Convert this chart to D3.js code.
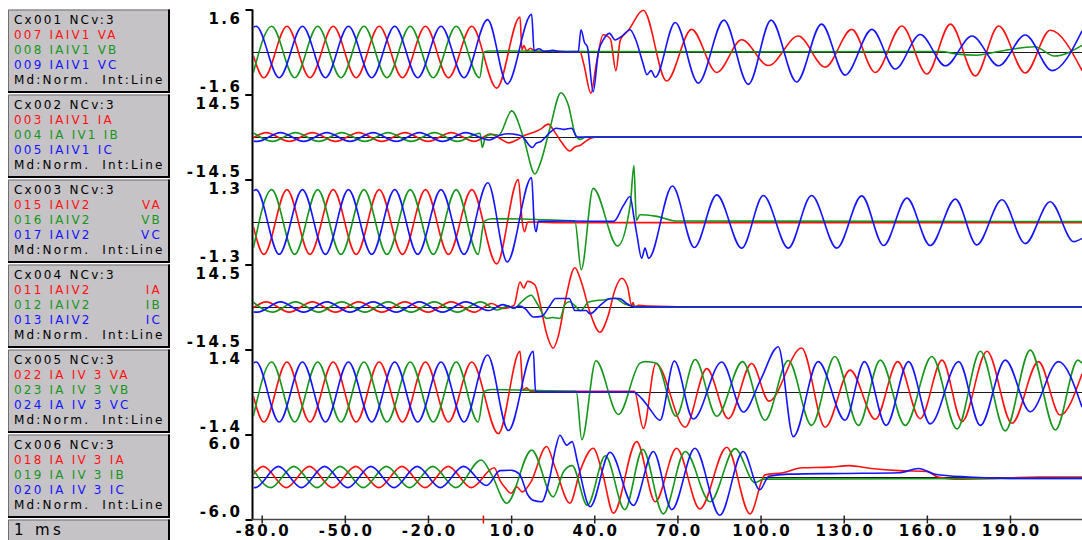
<!DOCTYPE html>
<html>
<head>
<meta charset="utf-8">
<script src="https://cdn.jsdelivr.net/npm/d3@7"></script>
<style>
  html, body { margin: 0; padding: 0; background: #ffffff; }
  svg { display: block; }
  text { white-space: pre; }
</style>
</head>
<body>
<svg id="chart" width="1082" height="540"></svg>
<script>
// ---- channel group headers and per-channel labels ----
const groupTitles = ["Cx001 NCv:3", "Cx002 NCv:3", "Cx003 NCv:3", "Cx004 NCv:3", "Cx005 NCv:3", "Cx006 NCv:3"];
const channelLabels = [
  [["007 IAIV1 VA", ""], ["008 IAIV1 VB", ""], ["009 IAIV1 VC", ""]],
  [["003 IAIV1 IA", ""], ["004 IA IV1 IB", ""], ["005 IAIV1 IC", ""]],
  [["015 IAIV2", "VA"], ["016 IAIV2", "VB"], ["017 IAIV2", "VC"]],
  [["011 IAIV2", "IA"], ["012 IAIV2", "IB"], ["013 IAIV2", "IC"]],
  [["022 IA IV 3 VA", ""], ["023 IA IV 3 VB", ""], ["024 IA IV 3 VC", ""]],
  [["018 IA IV 3 IA", ""], ["019 IA IV 3 IB", ""], ["020 IA IV 3 IC", ""]]
];
const modeLabel = "Md:Norm.  Int:Line";
const timeBaseLabel = "1 ms";

// full-scale value of each group (ms on x, engineering units on y)
const groupLimits = [1.6, 14.5, 1.3, 14.5, 1.4, 6.0];
const limitLabels = [["1.6", "-1.6"], ["14.5", "-14.5"], ["1.3", "-1.3"], ["14.5", "-14.5"], ["1.4", "-1.4"], ["6.0", "-6.0"]];
const timeTicks = [-80, -50, -20, 10, 40, 70, 100, 130, 160, 190];
const triggerTime = 0;

// ---- recorded samples: [time ms, value] at turning points ----
// Cx001  IAIV1 voltages
const va1 = [[-83,-0.14],[-79.2,-0.97],[-70.9,0.97],[-62.6,-0.97],[-54.2,0.97],[-45.9,-0.97],[-37.6,0.97],[-29.2,-0.97],[-20.9,0.97],[-12.6,-0.97],[-4.2,0.97],[4.8,-1.36],[13.2,1.32],[13.9,0.08],[14.6,0.24],[15.6,0.04],[17,0.14],[18.6,0.02],[24,0.04],[30,0.01],[34.8,0.02],[36.2,-0.45],[38.8,-1.55],[40.8,-0.4],[43.2,0.65],[45.8,0.5],[47.8,-0.7],[49.4,0.45],[52.2,0.8],[57.7,1.57],[66.1,-1.09],[75.1,0.85],[84.2,-0.77],[93.2,0.46],[102.8,-0.51],[113.6,0.6],[123.3,-0.57],[132.9,0.85],[141.4,-0.77],[151,0.98],[160,-0.83],[168.5,1.05],[177.5,-0.9],[185.9,0.98],[195.5,-0.79],[204.5,0.82],[216,-0.7]];
const vb1 = [[-83,-0.78],[-76.4,0.97],[-68.1,-0.97],[-59.8,0.97],[-51.4,-0.97],[-43.1,0.97],[-34.8,-0.97],[-26.4,0.97],[-18.1,-0.97],[-9.8,0.97],[-1.4,-0.97],[0.3,0.0],[2,0.04],[40,0.02],[100,0.01],[165,0.02],[171,-0.08],[178,-0.12],[186,0.02],[199,0.2],[206,-0.15],[216,0.25]];
const vc1 = [[-83,0.93],[-82.0,0.97],[-73.7,-0.97],[-65.3,0.97],[-57.0,-0.97],[-48.7,0.97],[-40.3,-0.97],[-32.0,0.97],[-23.7,-0.97],[-15.3,0.97],[-7.0,-0.97],[1.5,1.22],[8.6,-1.2],[17.4,1.42],[18.3,0.05],[20,0.12],[22,0.02],[25,0.06],[28,0.0],[34.2,0.0],[35.2,0.84],[36.5,0.35],[37.5,0.2],[39.6,-1.5],[41.5,0.0],[43.5,0.5],[45.5,0.7],[47.5,0.45],[50,0.6],[52.9,0.84],[55,0.45],[57.5,-0.4],[59,-0.85],[60.5,-0.7],[62,-0.95],[69.2,1.11],[77.5,-1.17],[86.8,1.2],[95.6,-1.22],[103.8,1.2],[113,-1.13],[122,1.05],[130.5,-0.87],[140.2,0.85],[148.6,-0.64],[157.6,0.66],[166.7,-0.52],[176.3,0.6],[185.9,-0.52],[195.5,0.64],[205.2,-0.7],[216,0.8]];

// Cx002  IAIV1 currents
const ia1 = [[-83,-0.24],[-78.4,1.5],[-70.05,-1.5],[-61.7,1.5],[-53.35,-1.5],[-45.0,1.5],[-36.65,-1.5],[-28.3,1.5],[-19.95,-1.5],[-11.6,1.5],[-3.25,-1.5],[2.5,1.0],[6,-0.5],[9.1,-2.0],[12,-1.0],[15,0.6],[18,1.5],[20.5,2.6],[23.4,4.4],[25.5,2.0],[28,-1.5],[31.2,-4.8],[33,-3.4],[35,-2.8],[37,-1.4],[39,-0.3],[41,0.0],[216,0.0]];
const ib1 = [[-83,1.4],[-76.15,-1.5],[-67.8,1.5],[-59.45,-1.5],[-51.1,1.5],[-42.75,-1.5],[-34.4,1.5],[-26.05,-1.5],[-17.7,1.5],[-9.35,-1.5],[-1.2,1.3],[-0.4,-3.6],[0.8,0.2],[3,0.9],[5.5,0.6],[10.2,8.9],[14.4,0.0],[18.6,-12.6],[20.5,-9],[24,3],[28,15.1],[30.6,11],[33.3,0.5],[35,-0.8],[37,0.0],[216,0.0]];
const ic1 = [[-83,-1.4],[-81.55,-1.5],[-73.2,1.5],[-64.85,-1.5],[-56.5,1.5],[-48.15,-1.5],[-39.8,1.5],[-31.45,-1.5],[-23.1,1.5],[-14.75,-1.5],[-6.4,1.5],[2.0,-1.0],[6,0.6],[9,1.1],[12,0.8],[14,0.2],[17.6,-3.6],[19,-2.2],[21,-1.4],[23,0.6],[26.4,3.0],[29,2.6],[31.8,3.0],[33.8,0.0],[216,0.0]];

// Cx003  IAIV2 voltages
const va2 = [[-83,-0.14],[-79.2,-0.99],[-70.9,0.99],[-62.6,-0.99],[-54.2,0.99],[-45.9,-0.99],[-37.6,0.99],[-29.2,-0.99],[-20.9,0.99],[-12.6,-0.99],[-4.2,0.99],[4.8,-1.28],[12.6,1.3],[14.0,0.0],[14.8,-0.3],[16,0.0],[30,-0.02],[216,-0.02]];
const vb2 = [[-83,-0.8],[-76.4,0.99],[-68.1,-0.99],[-59.8,0.99],[-51.4,-0.99],[-43.1,0.99],[-34.8,-0.99],[-26.4,0.99],[-18.1,-0.99],[-9.8,0.99],[-1.9,-0.99],[0.3,0.02],[3,0.1],[14,0.09],[25,0.06],[33,0.03],[35.3,-1.46],[39.6,1.03],[48.4,-0.73],[53,0.55],[54.3,1.73],[55.2,0.05],[56.5,0.22],[62,0.18],[70,0.03],[216,0.01]];
const vc2 = [[-83,0.95],[-82.0,0.99],[-73.7,-0.99],[-65.3,0.99],[-57.0,-0.99],[-48.7,0.99],[-40.3,-0.99],[-32.0,0.99],[-23.7,-0.99],[-15.3,0.99],[-7.0,-0.99],[1.6,1.2],[8.6,-1.22],[17.4,1.36],[18.3,0.0],[19.0,-0.3],[19.8,0.02],[30,0.03],[47,0.02],[50.5,0.5],[52.9,0.78],[54.3,0.15],[55.5,-0.45],[57.1,-1.11],[58.3,-0.8],[59.6,-1.11],[68.2,1.1],[76.1,-0.78],[84.2,0.83],[93.2,-0.8],[101,0.81],[110,-0.8],[118.4,0.81],[127.5,-0.8],[136.5,0.8],[144.4,-0.72],[152.8,0.73],[161.2,-0.72],[170.3,0.7],[178,-0.7],[187.1,0.68],[195.5,-0.66],[204.5,0.62],[213,-0.6],[216,-0.5]];

// Cx004  IAIV2 currents
const ia2 = [[-83,-0.28],[-78.4,1.75],[-70.05,-1.75],[-61.7,1.75],[-53.35,-1.75],[-45.0,1.75],[-36.65,-1.75],[-28.3,1.75],[-19.95,-1.75],[-11.6,1.75],[-3.25,-1.75],[3,1.2],[7,-0.5],[11,0.5],[13.2,8.5],[14.5,6.5],[16,8.8],[18.6,7.5],[20.5,1],[22.5,-8],[25.2,-14],[27,-10],[29.5,2],[33,13.4],[35.5,8],[38.5,-2],[42,-8.6],[45,-3],[47.5,6],[49.9,9.8],[52,7],[53.5,0.5],[54,1.5],[54.6,0],[56,0.6],[60,0.3],[70,0.1],[75,0.0],[216,0.0]];
const ib2 = [[-83,1.65],[-76.15,-1.75],[-67.8,1.75],[-59.45,-1.75],[-51.1,1.75],[-42.75,-1.75],[-34.4,1.75],[-26.05,-1.75],[-17.7,1.75],[-9.35,-1.75],[-1.0,1.75],[5,-1.0],[9,0.3],[11,-0.5],[14,2],[17.2,4.0],[19.5,1],[22.8,-3.9],[25,-3.6],[27.6,-3.9],[29.5,1.0],[31,1.8],[33,0.5],[35,-1.3],[38,1.7],[44,2.5],[47.5,3.0],[51,1.0],[54.5,0.2],[57,0.1],[60,0],[216,0]];
const ic2 = [[-83,-1.65],[-81.55,-1.75],[-73.2,1.75],[-64.85,-1.75],[-56.5,1.75],[-48.15,-1.75],[-39.8,1.75],[-31.45,-1.75],[-23.1,1.75],[-14.75,-1.75],[-6.4,1.75],[2.0,-1.2],[7,0.8],[11,-0.3],[13,0.3],[15,-0.5],[18,-3.4],[21,-3.2],[24,0.5],[26,2.9],[31,2.9],[33,-1.2],[37,-1.2],[38.5,-2.3],[42,0.5],[46,2.9],[49,2.9],[52,1],[54.5,0],[216,0]];

// Cx005  IA IV 3 voltages
const va3 = [[-83,-0.14],[-79.2,-0.99],[-70.9,0.99],[-62.6,-0.99],[-54.2,0.99],[-45.9,-0.99],[-37.6,0.99],[-29.2,-0.99],[-20.9,0.99],[-12.6,-0.99],[-4.2,0.99],[5.4,-1.37],[13.2,1.34],[14.3,0.05],[15.5,0.14],[17,0.02],[54.5,0.02],[57.7,-1.2],[62.2,0.94],[72.8,-1.16],[80.6,0.77],[88.4,-0.88],[96.8,0.94],[103,-0.3],[114.8,1.45],[123.3,-1.16],[132.3,0.72],[141.4,-0.9],[149.5,1.0],[157.6,-0.88],[165.5,1.05],[172.7,-0.97],[181.7,1.34],[190.7,-1.03],[200.3,1.0],[208.1,-0.76],[216,0.6]];
const vb3 = [[-83,-0.8],[-76.4,0.99],[-68.1,-0.99],[-59.8,0.99],[-51.4,-0.99],[-43.1,0.99],[-34.8,-0.99],[-26.4,0.99],[-18.1,-0.99],[-9.8,0.99],[-1.9,-0.99],[0.3,0.02],[3,0.08],[20,0.05],[33.5,0.02],[35.5,-1.57],[40.6,1.03],[48.7,-0.74],[56.5,0.95],[58.5,1.0],[62.5,0.95],[69.5,-0.8],[76.4,1.07],[84.2,-0.8],[93.5,1.0],[101.6,-0.93],[110,1.04],[118.4,-1.1],[126.8,1.17],[135.3,-1.1],[143.2,1.05],[152.2,-1.1],[161.8,1.17],[170.9,-1.22],[179.3,1.34],[188.3,-1.28],[197.3,1.38],[206.4,-1.25],[214.5,1.05],[216,0.95]];
const vc3 = [[-83,0.95],[-82.0,0.99],[-73.7,-0.99],[-65.3,0.99],[-57.0,-0.99],[-48.7,0.99],[-40.3,-0.99],[-32.0,0.99],[-23.7,-0.99],[-15.3,0.99],[-7.0,-0.99],[1.5,1.22],[9.0,-1.27],[18,1.34],[18.8,0.03],[20,0.0],[54,0.0],[57,-0.2],[60,-0.55],[63.7,-0.93],[68.9,1.02],[75.7,-0.89],[86,0.99],[93.8,-0.66],[100,0.4],[106.4,1.49],[111.8,-1.47],[120.8,1.0],[130.5,-0.93],[137.5,1.0],[145.3,-1.1],[153.4,1.0],[161.2,-1.05],[171.5,1.0],[179.3,-1.1],[188.3,1.05],[197.3,-0.65],[207.5,1.0],[216,-0.5]];

// Cx006  IA IV 3 currents
const ia3 = [[-83,0.37],[-79.5,1.5],[-71.15,-1.5],[-62.8,1.5],[-54.45,-1.5],[-46.1,1.5],[-37.75,-1.5],[-29.4,1.5],[-21.05,-1.5],[-12.7,1.5],[-4.35,-1.5],[3.9,1.3],[6,-0.5],[8,-1.6],[10,-2.3],[12,-1.4],[14,-2.1],[17,-0.8],[22.8,4.3],[26,1.2],[31.2,-3.7],[35,1.0],[39.6,4.05],[43,0.5],[46.9,-5.1],[55.3,5.0],[62,-3.5],[69.7,4.05],[78.1,-4.5],[87.8,4.2],[96.2,-5.2],[101.6,0.3],[108,0.6],[115,1.3],[125,1.4],[132,1.6],[140,1.2],[150,0.9],[160,0.8],[164,0.0],[170,-0.3],[185,-0.2],[200,0.0],[216,0.0]];
const ib3 = [[-83,1.05],[-76.75,-1.5],[-68.4,1.5],[-60.05,-1.5],[-51.7,1.5],[-43.35,-1.5],[-35,1.5],[-26.65,-1.5],[-18.3,1.5],[-9.95,-1.5],[-0.8,2.4],[3,0.3],[8.4,-3.7],[17.4,3.8],[25.2,-2.8],[29,0.8],[32,1.6],[37.5,-4.0],[44,3.0],[51,-4.6],[57.5,3.9],[64.9,-5.2],[72.8,3.6],[81.8,-3.5],[90.8,4.0],[98,-0.8],[101,-0.3],[216,-0.2]];
const ic3 = [[-83,-1.48],[-82.35,-1.5],[-74,1.5],[-65.65,-1.5],[-57.3,1.5],[-48.95,-1.5],[-40.6,1.5],[-32.25,-1.5],[-23.9,1.5],[-15.55,-1.5],[-7.2,1.5],[1.15,-1.2],[6,0.9],[10,0.95],[13,0.4],[16,-2.5],[18,-3.3],[21,-3.5],[24,0],[26,4],[27.6,5.9],[30,4.5],[32,5.0],[34,2],[38.5,-4.2],[45.7,3.5],[54.1,-4.0],[61.3,3.6],[68,-4.6],[76.3,4.05],[85.3,-5.4],[93.7,3.6],[99.7,-1.8],[103,0.1],[110,0.4],[130,0.5],[150,0.6],[157,1.2],[163,0.4],[175,0.0],[190,-0.2],[216,-0.2]];

const groupSeries = [[va1, vb1, vc1], [ia1, ib1, ic1], [va2, vb2, vc2], [ia2, ib2, ic2], [va3, vb3, vc3], [ia3, ib3, ic3]];
const phaseColors = ["#ff1010", "#16961c", "#1414ff"];

// ---- layout ----
const W = 1082, H = 540;
const bandTop = 9.5, bandH = 85;
const axisX = 252.5;
const axisY = bandTop + bandH * 6;

const svg = d3.select("#chart");

const x = d3.scaleLinear().domain([-80, 190]).range([261.7, 1010]);

svg.append("defs").append("clipPath").attr("id", "plotClip")
  .append("rect").attr("x", axisX + 1).attr("y", 0).attr("width", W - axisX).attr("height", axisY);

function drawBox(g, w, h) {
  g.append("rect").attr("x", 0).attr("y", 0).attr("width", w).attr("height", h).attr("fill", "#c6c3c6");
  g.append("path").attr("d", `M0.5,${h} V0.5 H${w}`).attr("fill", "none").attr("stroke", "#6e6e6e").attr("stroke-width", 1);
  g.append("path").attr("d", `M0,${h - 1} H${w - 1} V0`).attr("fill", "none").attr("stroke", "#000").attr("stroke-width", 2);
}

// side panels with channel names
const boxX = 8, boxW = 162;
groupTitles.forEach((title, i) => {
  const top = bandTop + bandH * i;
  const g = svg.append("g").attr("transform", `translate(${boxX},${top})`);
  drawBox(g, boxW, bandH - 1.5);
  const rows = [[title, "", "#000000"]]
    .concat(channelLabels[i].map((c, k) => [c[0], c[1], phaseColors[k]]))
    .concat([[modeLabel, "", "#000000"]]);
  rows.forEach((r, k) => {
    const yy = 14.8 + k * 14.9;
    g.append("text").attr("x", 6).attr("y", yy)
      .attr("fill", r[2]).attr("class", "boxtxt").text(r[0]);
    if (r[1]) {
      g.append("text").attr("x", 154).attr("y", yy).attr("text-anchor", "end")
        .attr("fill", r[2]).attr("class", "boxtxt").text(r[1]);
    }
  });
});
{
  const g = svg.append("g").attr("transform", `translate(${boxX},${axisY})`);
  drawBox(g, boxW, 24);
  g.append("text").attr("x", 6).attr("y", 15.5).attr("fill", "#000")
    .style("font", "15px 'DejaVu Sans'").style("letter-spacing", "3.4px").text(timeBaseLabel);
}

svg.selectAll("text.boxtxt")
  .style("font-family", "'DejaVu Sans'").style("font-size", "12px").style("letter-spacing", "2.2px");

// per-group plots
const valueFont = "bold 15px 'DejaVu Sans'";
groupSeries.forEach((series, i) => {
  const top = bandTop + bandH * i;
  const lim = groupLimits[i];
  const y = d3.scaleLinear().domain([-lim, lim]).range([top + bandH, top]);

  // left ticks at full scale
  svg.append("g").attr("transform", `translate(${axisX},0)`)
    .call(d3.axisLeft(y).tickValues([lim, -lim]).tickSize(7).tickFormat(""))
    .call(g => g.select(".domain").remove())
    .call(g => g.selectAll("line").attr("stroke", "#000").attr("stroke-width", 2));

  // scale labels
  svg.append("text").attr("x", 242.5).attr("y", y(lim) + 14).attr("text-anchor", "end")
    .style("font", valueFont).style("letter-spacing", "2.5px").attr("fill", "#000").text(limitLabels[i][0]);
  svg.append("text").attr("x", 242.5).attr("y", y(-lim) - 2.5).attr("text-anchor", "end")
    .style("font", valueFont).style("letter-spacing", "2.5px").attr("fill", "#000").text(limitLabels[i][1]);

  // zero reference
  svg.append("line").attr("x1", axisX).attr("x2", W).attr("y1", Math.round(y(0)) + 0.5).attr("y2", Math.round(y(0)) + 0.5)
    .attr("stroke", "#1a1a1a").attr("stroke-width", 1);

  const line = d3.line().x(d => x(d[0])).y(d => y(d[1])).curve(d3.curveMonotoneX);
  svg.append("g").attr("clip-path", "url(#plotClip)")
    .selectAll("path").data(series).join("path")
    .attr("d", line).attr("fill", "none")
    .attr("stroke", (d, k) => phaseColors[k]).attr("stroke-width", 1.6)
    .attr("stroke-linejoin", "round");
});

// vertical axis line
svg.append("line").attr("x1", axisX).attr("x2", axisX).attr("y1", bandTop).attr("y2", axisY)
  .attr("stroke", "#000").attr("stroke-width", 2);

// time axis
svg.append("line").attr("x1", axisX - 1).attr("x2", W).attr("y1", axisY).attr("y2", axisY)
  .attr("stroke", "#4a4a4a").attr("stroke-width", 1.5);
const xAxis = svg.append("g").attr("transform", `translate(0,${axisY})`)
  .call(d3.axisBottom(x).tickValues(timeTicks).tickSize(4).tickPadding(0).tickFormat(d => d.toFixed(1)));
xAxis.select(".domain").remove();
xAxis.selectAll(".tick line").attr("y1", -4).attr("y2", 4).attr("stroke", "#222").attr("stroke-width", 1.5);
xAxis.selectAll(".tick text").attr("fill", "#000").style("font", valueFont).style("letter-spacing", "2.5px")
  .attr("y", 16.5).attr("dy", null).attr("dx", "1.25px");
svg.append("line").attr("x1", x(triggerTime)).attr("x2", x(triggerTime)).attr("y1", axisY - 4).attr("y2", axisY + 4)
  .attr("stroke", "#ff0000").attr("stroke-width", 1.5);
</script>
</body>
</html>
